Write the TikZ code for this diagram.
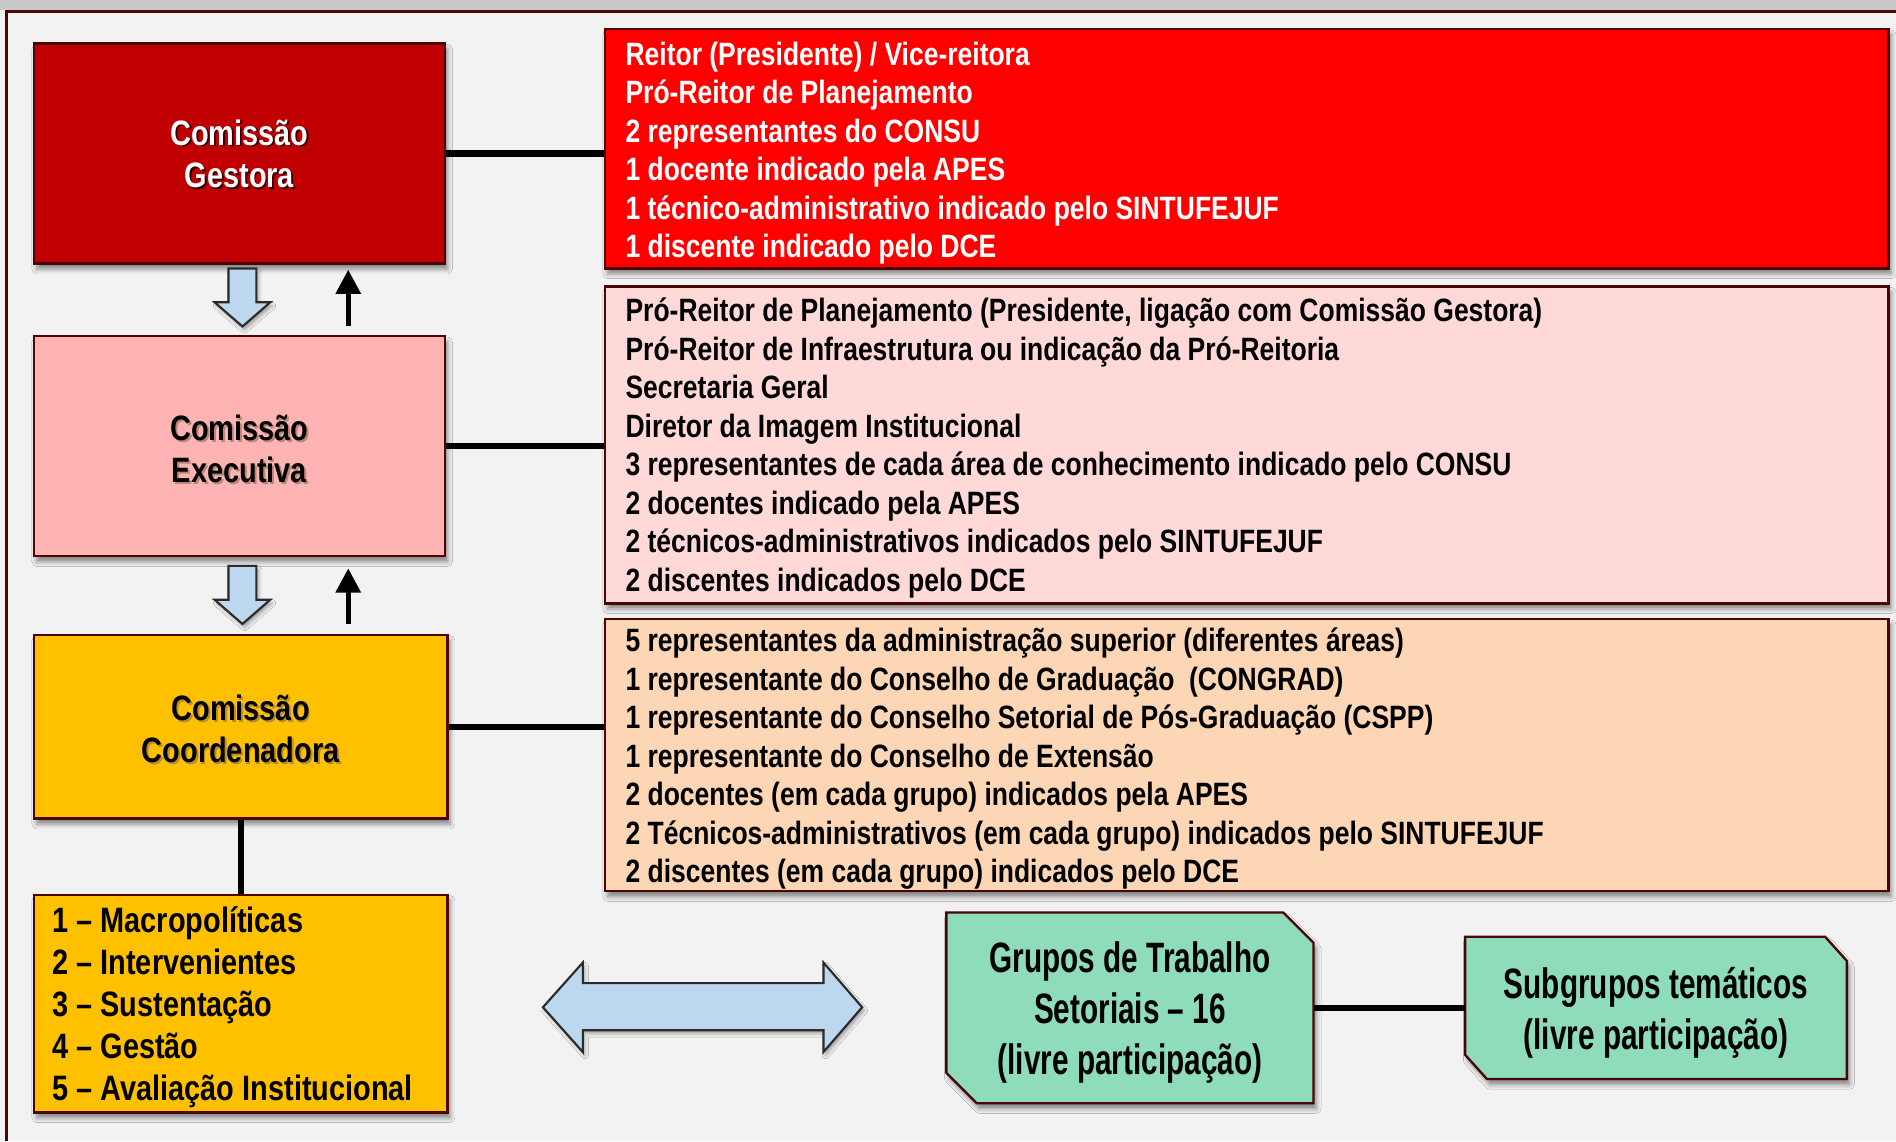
\documentclass[tikz,border=0pt]{standalone}
\usepackage{fontspec}
\setmainfont{Liberation Sans}[FakeStretch=0.82]
\newfontfamily\narrowfont{Liberation Sans}[FakeStretch=0.70]
\usetikzlibrary{calc,shadows.blur,arrows.meta}

\definecolor{bgc}{HTML}{F2F2F2}
\definecolor{topband}{HTML}{C8C8C8}
\definecolor{edge}{HTML}{4A0606}
\definecolor{gestorac}{HTML}{C00000}
\definecolor{redlistc}{HTML}{FF0000}
\definecolor{execc}{HTML}{FFB3B3}
\definecolor{pinklistc}{HTML}{FFD8D8}
\definecolor{coordc}{HTML}{FFC000}
\definecolor{peachc}{HTML}{FCD6B5}
\definecolor{greenc}{HTML}{8FDCBB}
\definecolor{arrowblue}{HTML}{BDD7EE}
\definecolor{arrowedge}{HTML}{2B2B2B}
\definecolor{darkshade}{HTML}{3A0000}
\definecolor{softshade}{HTML}{8A6A50}

\begin{document}
\begin{tikzpicture}[x=0.02cm,y=-0.02cm,
  box/.style={draw=edge, line width=1.1pt, inner sep=0pt,
    blur shadow={shadow xshift=1.3pt, shadow yshift=-2.6pt,
      shadow blur radius=2.2pt, shadow opacity=45}},
  conn/.style={line width=2.9pt, black},
  lst/.style={anchor=base west, inner sep=0pt,
    font=\bfseries\fontsize{15.2}{18.2}\selectfont},
  mac/.style={anchor=base west, inner sep=0pt,
    font=\bfseries\fontsize{16.6}{20}\selectfont},
  ttl/.style={align=center, inner sep=0pt,
    font=\bfseries\fontsize{16.6}{19.9}\selectfont},
  grp/.style={align=center, inner sep=0pt,
    font=\narrowfont\bfseries\fontsize{20}{24}\selectfont},
  fat/.style={draw=arrowedge, line width=1pt, fill=arrowblue, line join=miter,
    blur shadow={shadow xshift=1pt, shadow yshift=-1.6pt,
      shadow blur radius=1.6pt, shadow opacity=35}},
  uparrow/.style={line width=2.5pt, black,
    -{Triangle[length=0.4cm,width=0.4cm]}}
]
\useasboundingbox (0,0) rectangle (1568,944);

% page background and frame
\fill[bgc] (0,0) rectangle (1568,944);
\fill[topband] (0,0) rectangle (1568,8);
\draw[edge, line width=0.05cm] (5,944) -- (5,9.5) -- (1568,9.5);

% committee boxes
\node[box, fill=gestorac, minimum width=6.8cm, minimum height=3.64cm] (gestora) at (198,127) {};
\node[box, fill=redlistc, minimum width=21.24cm, minimum height=3.96cm] (redlist) at (1031,123) {};
\node[box, fill=execc, minimum width=6.8cm, minimum height=3.64cm] (executiva) at (198,369) {};
\node[box, fill=pinklistc, minimum width=21.24cm, minimum height=5.24cm] (pinklist) at (1031,368) {};
\node[box, fill=coordc, minimum width=6.84cm, minimum height=3.04cm] (coord) at (199,601) {};
\node[box, fill=peachc, minimum width=21.24cm, minimum height=4.5cm] (peachlist) at (1031,624.5) {};
\node[box, fill=coordc, minimum width=6.84cm, minimum height=3.6cm] (macro) at (199,830) {};

% working-group boxes (chamfered corners)
\node[minimum width=6.06cm, minimum height=3.14cm, inner sep=0pt] (grupos) at (934.5,833.5) {};
\node[minimum width=6.3cm, minimum height=2.34cm, inner sep=0pt] (subgrupos) at (1369.5,833.5) {};
\filldraw[box, fill=greenc] (grupos.north west) -- ($(grupos.north east)+(-25,0)$)
  -- ($(grupos.north east)+(0,25)$) -- (grupos.south east)
  -- ($(grupos.south west)+(25,0)$) -- ($(grupos.south west)+(0,-25)$) -- cycle;
\filldraw[box, fill=greenc] (subgrupos.north west) -- ($(subgrupos.north east)+(-18,0)$)
  -- ($(subgrupos.north east)+(0,20)$) -- (subgrupos.south east)
  -- ($(subgrupos.south west)+(18,0)$) -- ($(subgrupos.south west)+(0,-20)$) -- cycle;

% connectors
\draw[conn] (gestora.east) -- (gestora.east -| redlist.west);
\draw[conn] (executiva.east) -- (executiva.east -| pinklist.west);
\draw[conn] (coord.east) -- (coord.east -| peachlist.west);
\draw[conn] (coord.south) -- (macro.north);
\draw[conn] (grupos.east) -- (subgrupos.west);

% flow arrows between committees
\coordinate (down1) at (200.5,222);
\coordinate (down2) at (200.5,468);
\foreach \d in {down1,down2}
  \filldraw[fat] (\d) ++(-11.5,0) -- ++(23,0) -- ++(0,28) -- ++(11.5,0)
    -- ++(-23,20) -- ++(-23,-20) -- ++(11.5,0) -- cycle;
\coordinate (up1a) at (288,270);
\coordinate (up1b) at (288,223);
\coordinate (up2a) at (288,516);
\coordinate (up2b) at (288,470);
\draw[uparrow] (up1a) -- (up1b);
\draw[uparrow] (up2a) -- (up2b);

% two-way arrow between the themes and the working groups
\filldraw[fat] (449,833) -- (482,796) -- (482,813) -- (681,813) -- (681,796)
  -- (713,833) -- (681,870) -- (681,852) -- (482,852) -- (482,870) -- cycle;

% committee titles
\node[ttl, text=darkshade] (gestora-s) at ($(gestora)+(1.6,1.6)$) {Comissão\\Gestora};
\node[ttl, text=white] (gestora-t) at (gestora) {Comissão\\Gestora};
\node[ttl, text=softshade, opacity=0.6] (executiva-s) at ($(executiva)+(1.6,3.6)$) {Comissão\\Executiva};
\node[ttl, text=black] (executiva-t) at ($(executiva)+(0,2)$) {Comissão\\Executiva};
\node[ttl, text=softshade, opacity=0.6] (coord-s) at ($(coord)+(1.6,3.6)$) {Comissão\\Coordenadora};
\node[ttl, text=black] (coord-t) at ($(coord)+(0,2)$) {Comissão\\Coordenadora};

% membership lists
\foreach [count=\i] \t in {
  {Reitor (Presidente) / Vice-reitora},
  {Pró-Reitor de Planejamento},
  {2 representantes do CONSU},
  {1 docente indicado pela APES},
  {1 técnico-administrativo indicado pelo SINTUFEJUF},
  {1 discente indicado pelo DCE}}
  \node[lst, text=white] (red\i) at (517,{54+31.8*(\i-1)}) {\t};

\foreach [count=\i] \t in {
  {Pró-Reitor de Planejamento (Presidente, ligação com Comissão Gestora)},
  {Pró-Reitor de Infraestrutura ou indicação da Pró-Reitoria},
  {Secretaria Geral},
  {Diretor da Imagem Institucional},
  {3 representantes de cada área de conhecimento indicado pelo CONSU},
  {2 docentes indicado pela APES},
  {2 técnicos-administrativos indicados pelo SINTUFEJUF},
  {2 discentes indicados pelo DCE}}
  \node[lst, text=black] (pink\i) at (517,{266+31.85*(\i-1)}) {\t};

\foreach [count=\i] \t in {
  {5 representantes da administração superior (diferentes áreas)},
  {1 representante do Conselho de Graduação~ (CONGRAD)},
  {1 representante do Conselho Setorial de Pós-Graduação (CSPP)},
  {1 representante do Conselho de Extensão},
  {2 docentes (em cada grupo) indicados pela APES},
  {2 Técnicos-administrativos (em cada grupo) indicados pelo SINTUFEJUF},
  {2 discentes (em cada grupo) indicados pelo DCE}}
  \node[lst, text=black] (peach\i) at (517,{539+31.8*(\i-1)}) {\t};

\foreach [count=\i] \t in {
  {1 – Macropolíticas},
  {2 – Intervenientes},
  {3 – Sustentação},
  {4 – Gestão},
  {5 – Avaliação Institucional}}
  \node[mac, text=black] (theme\i) at (43,{771+34.75*(\i-1)}) {\t};

% working-group labels
\node[grp] (grupos-t) at ($(grupos)+(0,3.5)$) {Grupos de Trabalho\\Setoriais – 16\\(livre participação)};
\node[grp] (subgrupos-t) at ($(subgrupos)+(0,4)$) {Subgrupos temáticos\\(livre participação)};
\end{tikzpicture}
\end{document}
